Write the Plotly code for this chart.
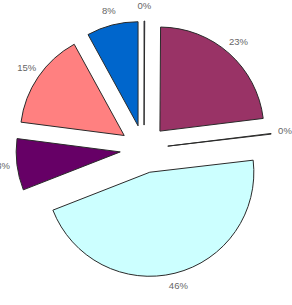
import numpy as np
import plotly.graph_objects as go

labels = ["A", "B", "C", "D", "E", "F", "G"]
values = [0.1, 23, 0.1, 46, 8, 15, 8]
colors = ["#9999FF", "#993366", "#FFFFCC", "#CCFFFF", "#660066", "#FF8080", "#0066CC"]
pull = 0.23

# geometry (pixels)
W, H = 292, 305
L, T, SIZE = 16, 21, 256
cx, cy = L + SIZE / 2, T + SIZE / 2

fig = go.Figure()
fig.add_trace(go.Pie(
    labels=labels,
    values=values,
    sort=False,
    direction="clockwise",
    rotation=0,
    pull=[pull] * len(values),
    marker=dict(colors=colors, line=dict(color="#2a2a2a", width=1)),
    textinfo="none",
    hoverinfo="none",
    showlegend=False,
    domain=dict(x=[L / W, (L + SIZE) / W], y=[(H - T - SIZE) / H, (H - T) / H]),
))

# outside percentage labels, placed at each slice's mid-angle
vals = np.array(values, dtype=float)
pct = vals / vals.sum()
mid = (np.cumsum(pct) - pct / 2) * 2 * np.pi
dist = SIZE / 2 + 14
lx = dist * np.sin(mid)
ly = dist * np.cos(mid)
texts = [f"{round(p * 100):.0f}%" for p in pct]

fig.add_trace(go.Scatter(
    x=lx, y=ly, mode="text", text=texts,
    textfont=dict(family="Liberation Sans, Arial", size=9.5, color="#666666"),
    hoverinfo="none", showlegend=False, cliponaxis=False,
))

fig.update_layout(
    width=W, height=H,
    margin=dict(l=0, r=0, t=0, b=0),
    paper_bgcolor="white",
    plot_bgcolor="rgba(0,0,0,0)",
    xaxis=dict(range=[-cx, W - cx], visible=False, fixedrange=True),
    yaxis=dict(range=[-(H - cy), cy], visible=False, fixedrange=True),
)

fig.write_html("out.html")
